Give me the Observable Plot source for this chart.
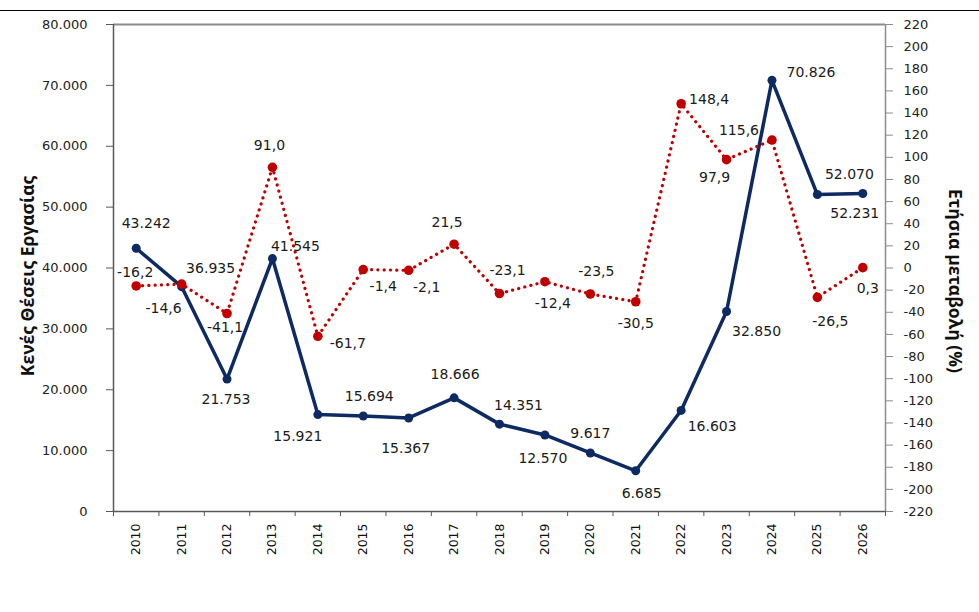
<!DOCTYPE html>
<html>
<head>
<meta charset="utf-8">
<script src="https://cdn.jsdelivr.net/npm/d3@7"></script>
<script src="https://cdn.jsdelivr.net/npm/@observablehq/plot@0.6"></script>
<style>
  body { margin: 0; background: #fff; }
  .top-rule { height: 10px; border-bottom: 1px solid #000; }
  #chart svg { display: block; }
</style>
</head>
<body>
<div class="top-rule"></div>
<div id="chart"></div>
<script>
// Job vacancies per year and their annual % change
const years = [2010, 2011, 2012, 2013, 2014, 2015, 2016, 2017, 2018, 2019, 2020, 2021, 2022, 2023, 2024, 2025, 2026];
const vacancies = [43242, 36935, 21753, 41545, 15921, 15694, 15367, 18666, 14351, 12570, 9617, 6685, 16603, 32850, 70826, 52070, 52231];
const changePct = [-16.2, -14.6, -41.1, 91.0, -61.7, -1.4, -2.1, 21.5, -23.1, -12.4, -23.5, -30.5, 148.4, 97.9, 115.6, -26.5, 0.3];
const leftTicks = [0, 10000, 20000, 30000, 40000, 50000, 60000, 70000, 80000];
const rightTicks = d3.range(-220, 221, 20);

// Label placement (pixel offsets from each point)
const vacancyLabelOffset = [[10,-25],[29,-18],[-1,20],[23,-12],[-20,22],[6,-19],[-3,31],[1,-23],[19,-19],[-2,24],[0,-19],[6,23],[31,16],[30,20],[39,-8],[32,-20],[-8,20]];
const changeLabelOffset = [[-1,-13],[-18,24],[-2,14],[-3,-22],[30,7],[20,17],[18,17],[-7,-22],[8,-23],[8,22],[6,-22],[0,22],[28,-4],[-12,18],[-33,-10],[13,24],[5,21]];

const BLUE = "#0e2a62";
const RED = "#c00000";
const FONT = "DejaVu Sans, Verdana, sans-serif";
const TITLE_FONT = "Open Sans, sans-serif";

const locale = d3.formatLocale({decimal: ",", thousands: ".", grouping: [3], currency: ["", "€"], minus: "-"});
const fmtInt = locale.format(",.0f");
const fmtPct = locale.format(".1f");

// The % series shares the left scale: [-220, 220] maps onto [0, 80000]
const toLeft = (p) => (p + 220) / 440 * 80000;
const fromLeft = (v) => v / 80000 * 440 - 220;

const rows = years.map((year, i) => ({year, vacancies: vacancies[i], change: changePct[i], left: toLeft(changePct[i])}));

const labelMarks = [];
rows.forEach((r, i) => {
  labelMarks.push(Plot.text([r], {x: "year", y: "vacancies", text: (d) => fmtInt(d.vacancies),
    dx: vacancyLabelOffset[i][0], dy: vacancyLabelOffset[i][1], lineAnchor: "middle", textAnchor: "middle",
    fontSize: 14, fill: "#1a1a1a"}));
  labelMarks.push(Plot.text([r], {x: "year", y: "left", text: (d) => fmtPct(d.change),
    dx: changeLabelOffset[i][0], dy: changeLabelOffset[i][1], lineAnchor: "middle", textAnchor: "middle",
    fontSize: 14, fill: "#1a1a1a"}));
});

const chart = Plot.plot({
  width: 979,
  height: 601,
  marginTop: 13,
  marginBottom: 101,
  marginLeft: 113,
  marginRight: 94,
  style: {fontFamily: FONT, background: "#fff", color: "#000"},
  x: {type: "linear", domain: [2009.5, 2026.5]},
  y: {domain: [0, 80000]},
  marks: [
    // plot area frame
    Plot.ruleY([80000], {stroke: "#8c8c8c", strokeWidth: 2}),
    Plot.ruleX([2026.5], {stroke: "#8c8c8c", strokeWidth: 1.5}),
    Plot.ruleX([2009.5], {stroke: "#595959", strokeWidth: 1.5}),
    Plot.ruleY([0], {stroke: "#595959", strokeWidth: 1.5}),
    // x axis: tick marks between years, rotated year labels
    Plot.axisX({ticks: d3.range(2009.5, 2027, 1), tickFormat: () => "", tickSize: 5, stroke: "#595959", label: null}),
    Plot.axisX({ticks: years, tickFormat: (d) => String(d), tickSize: 0, tickRotate: -90, tickPadding: 12, fontSize: 12.5, fill: "#111", label: null}),
    // left axis (vacancies)
    Plot.axisY({anchor: "left", ticks: leftTicks, tickFormat: fmtInt, tickSize: 7, tickPadding: 19, fontSize: 13, stroke: "#595959", fill: "#222", label: null}),
    // right axis (% change)
    Plot.axisY({anchor: "right", ticks: rightTicks.map(toLeft), tickFormat: (v) => String(Math.round(fromLeft(v))), tickSize: 7, tickPadding: 11, fontSize: 13, stroke: "#8c8c8c", fill: "#222", label: null}),
    // axis titles
    Plot.text(["Κενές Θέσεις Εργασίας"], {frameAnchor: "left", textAnchor: "middle", lineAnchor: "middle", dx: -85, dy: 8, rotate: -90, fontFamily: TITLE_FONT, fontWeight: "bold", fontSize: 17.5, fill: "#111"}),
    Plot.text(["Ετήσια μεταβολή (%)"], {frameAnchor: "right", textAnchor: "middle", lineAnchor: "middle", dx: 69, dy: 13, rotate: 90, fontFamily: TITLE_FONT, fontWeight: "bold", fontSize: 17.5, fill: "#111"}),
    // vacancies series
    Plot.line(rows, {x: "year", y: "vacancies", stroke: BLUE, strokeWidth: 3.5}),
    Plot.dot(rows, {x: "year", y: "vacancies", r: 4.5, fill: BLUE}),
    // annual % change series
    Plot.line(rows, {x: "year", y: "left", stroke: RED, strokeWidth: 3.2, strokeDasharray: "0.1,6.2", strokeLinecap: "round"}),
    Plot.dot(rows, {x: "year", y: "left", r: 4.8, fill: RED}),
    ...labelMarks
  ]
});
document.getElementById("chart").appendChild(chart);
</script>
</body>
</html>
